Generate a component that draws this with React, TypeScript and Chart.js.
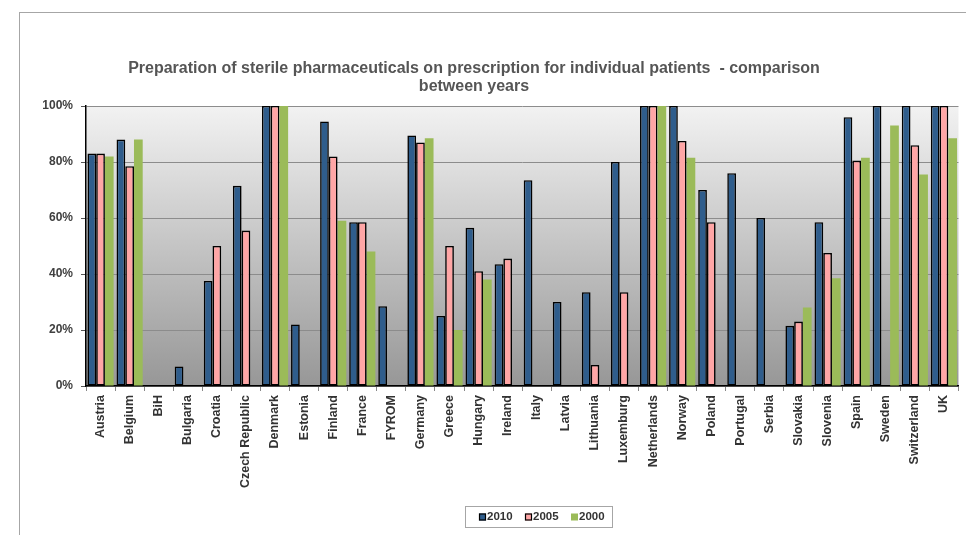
import React, { useEffect, useRef } from "react";
import { Chart, registerables } from "chart.js";

Chart.register(...registerables);

const categories = [
  "Austria", "Belgium", "BiH", "Bulgaria", "Croatia", "Czech Republic", "Denmark", "Estonia",
  "Finland", "France", "FYROM", "Germany", "Greece", "Hungary", "Ireland", "Italy", "Latvia",
  "Lithuania", "Luxemburg", "Netherlands", "Norway", "Poland", "Portugal", "Serbia", "Slovakia",
  "Slovenia", "Spain", "Sweden", "Switzerland", "UK",
];

const values2010 = [83, 88, null, 7, 37.5, 71.5, 100, 22, 94.5, 58.5, 28.5, 89.5, 25, 56.5, 43.5, 73.5, 30, 33.5, 80, 100, 100, 70, 76, 60, 21.5, 58.5, 96, 100, 100, 100];
const values2005 = [83, 78.5, null, null, 50, 55.5, 100, null, 82, 58.5, null, 87, 50, 41, 45.5, null, null, 7.5, 33.5, 100, 87.5, 58.5, null, null, 23, 47.5, 80.5, null, 86, 100];
const values2000 = [82, 88, null, null, null, null, 100, null, 59, 48, null, 88.5, 20, 38, null, null, null, null, null, 100, 81.5, null, null, null, 28, 38.5, 81.5, 93, 75.5, 88.5];

const seriesLabels = ["2010", "2005", "2000"];
const yTickValues = [0, 20, 40, 60, 80, 100];
const titleLines = [
  "Preparation of sterile pharmaceuticals on prescription for individual patients  - comparison",
  "between years",
];

const FONT = "'Liberation Sans', Arial, sans-serif";
const CANVAS_W = 974;
const CANVAS_H = 522;

const bgPlugin = {
  id: "plotBg",
  beforeDraw(chart: any) {
    const { ctx, chartArea } = chart;
    if (!chartArea) return;
    const g = ctx.createLinearGradient(0, chartArea.top, 0, chartArea.bottom);
    g.addColorStop(0, "#f2f2f2");
    g.addColorStop(1, "#979797");
    ctx.save();
    ctx.fillStyle = g;
    ctx.fillRect(chartArea.left, chartArea.top, chartArea.right - chartArea.left, chartArea.bottom - chartArea.top);
    ctx.restore();
  },
};

const legendPlugin = {
  id: "boxLegend",
  afterDraw(chart: any) {
    const { ctx } = chart;
    const boxL = 476, boxT = 493, boxW = 147, boxH = 21;
    ctx.save();
    ctx.strokeStyle = "#a6a6a6";
    ctx.lineWidth = 1;
    ctx.strokeRect(boxL + 0.5, boxT + 0.5, boxW, boxH);
    ctx.font = `bold 11.5px ${FONT}`;
    ctx.textBaseline = "middle";
    ctx.textAlign = "left";
    const cy = boxT + boxH / 2 + 0.5;
    let x = boxL + 14;
    chart.data.datasets.forEach((ds: any) => {
      const sq = 7;
      ctx.fillStyle = ds.backgroundColor;
      ctx.fillRect(x, cy - sq / 2, sq, sq);
      if (ds.borderWidth > 0) {
        ctx.strokeStyle = "#000";
        ctx.lineWidth = 1.2;
        ctx.strokeRect(x + 0.5, cy - sq / 2 + 0.5, sq - 1, sq - 1);
      }
      ctx.fillStyle = "#333";
      ctx.fillText(ds.label, x + sq + 1, cy);
      x += 46;
    });
    ctx.restore();
  },
};

export default function App() {
  const ref = useRef<HTMLCanvasElement>(null);
  useEffect(() => {
    const chart = new Chart(ref.current!, {
      type: "bar",
      data: {
        labels: categories,
        datasets: [
          { label: seriesLabels[0], data: values2010, backgroundColor: "#2f5d8c", borderColor: "#000", borderWidth: 1.6, borderSkipped: false },
          { label: seriesLabels[1], data: values2005, backgroundColor: "#ffa6a6", borderColor: "#000", borderWidth: 1.6, borderSkipped: false },
          { label: seriesLabels[2], data: values2000, backgroundColor: "#9bbb59", borderColor: "#9bbb59", borderWidth: 0, borderSkipped: false },
        ] as any,
      },
      options: {
        responsive: false,
        animation: false,
        layout: { padding: { left: 0, right: 4, top: 0, bottom: 0 } },
        datasets: { bar: { categoryPercentage: 0.9, barPercentage: 1.0 } } as any,
        plugins: {
          legend: { display: false },
          tooltip: { enabled: false },
          title: {
            display: true,
            text: titleLines,
            color: "#555555",
            font: { family: FONT, size: 16, weight: "bold", lineHeight: 1.125 },
            padding: { top: 47, bottom: 10 },
          },
        },
        scales: {
          x: {
            offset: true,
            afterFit: (s: any) => { s.height = 149; },
            grid: { offset: true, drawOnChartArea: false, drawTicks: true, tickLength: 5, tickColor: "#888" },
            border: { color: "#000", width: 1.5 },
            ticks: {
              autoSkip: false,
              minRotation: 90,
              maxRotation: 90,
              padding: 4,
              color: "#333",
              font: { family: FONT, size: 12.5, weight: "bold" },
            },
          },
          y: {
            min: 0,
            max: 100,
            afterFit: (s: any) => { s.width = 97; },
            afterBuildTicks: (s: any) => { s.ticks = yTickValues.map((v) => ({ value: v })); },
            grid: { color: "#8c8c8c", lineWidth: 1, tickLength: 5, tickColor: "#555" },
            border: { color: "#000", width: 1.5 },
            ticks: {
              padding: 8,
              color: "#404040",
              font: { family: FONT, size: 12, weight: "bold" },
              callback: (v: any) => `${v}%`,
            },
          },
        },
      } as any,
      plugins: [bgPlugin, legendPlugin],
    });
    return () => chart.destroy();
  }, []);

  return (
    <div style={{ position: "fixed", left: 0, top: 0, width: 966, height: 535, overflow: "hidden", background: "#fff" }}>
      <div style={{ position: "absolute", left: 19, top: 12, width: 1000, height: 600, borderTop: "1px solid #a6a6a6", borderLeft: "1px solid #a6a6a6" }} />
      <canvas ref={ref} width={CANVAS_W} height={CANVAS_H} style={{ position: "absolute", left: -11, top: 13, width: CANVAS_W, height: CANVAS_H }} />
    </div>
  );
}
